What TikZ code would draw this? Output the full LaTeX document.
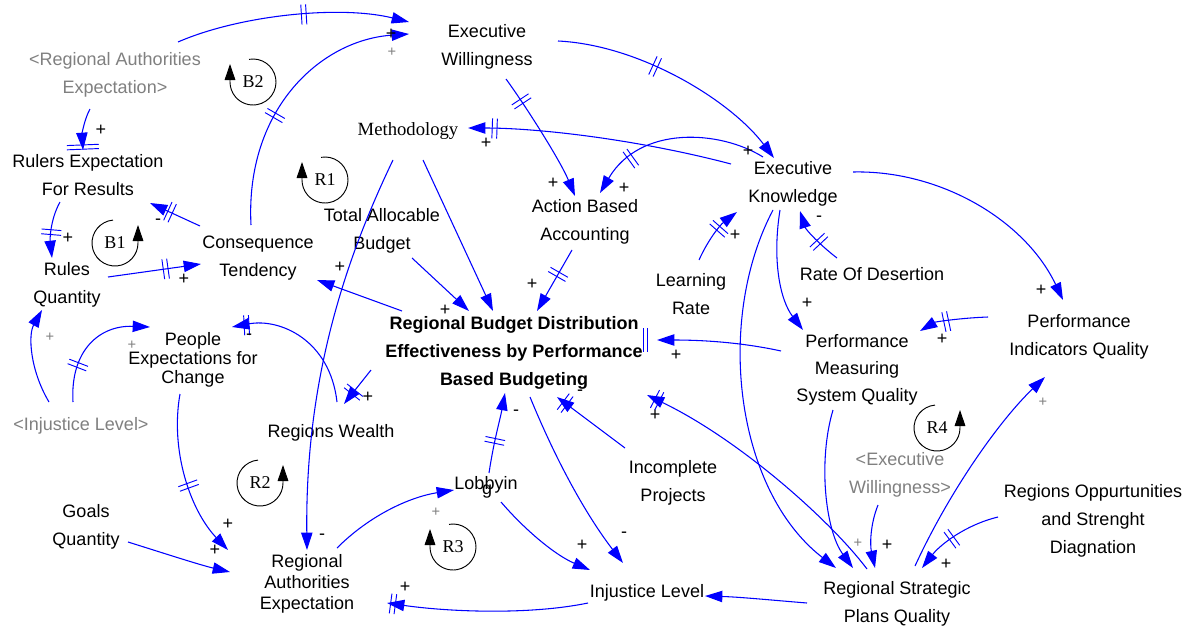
\documentclass[tikz,border=0pt]{standalone}
\usepackage{fontspec}
\setmainfont{Liberation Sans}
\newfontfamily\serifface{Liberation Serif}
\usetikzlibrary{arrows.meta,decorations.markings}
\definecolor{linkblue}{RGB}{0,0,255}
\definecolor{shadowgray}{RGB}{128,128,128}

\begin{document}
\begin{tikzpicture}[x=0.75pt,y=-0.75pt,
  var/.style={font=\fontsize{13.5}{20.5}\selectfont, align=center, inner sep=0pt},
  shadow/.style={var, text=shadowgray},
  link/.style={draw=linkblue, line width=0.8pt, -{Triangle[length=13pt,width=8.5pt]}},
  dmark/.style={draw=linkblue, line width=0.7pt, -},
  dly/.style={postaction={decorate, decoration={markings, mark=at position #1 with
      {\draw[dmark] (-1.8pt,-7.5pt) -- (-1.8pt,7.5pt) (1.8pt,-7.5pt) -- (1.8pt,7.5pt);}}}},
  dlywide/.style={postaction={decorate, decoration={markings, mark=at position #1 with
      {\draw[dmark] (-1.6pt,-12pt) -- (-1.6pt,12pt) (1.6pt,-12pt) -- (1.6pt,12pt);}}}},
  dlyend/.style={postaction={decorate, decoration={markings, mark=at position 1 with
      {\draw[dmark] (7.5pt,-9pt) -- (7.5pt,9pt) (10.5pt,-9pt) -- (10.5pt,9pt);}}}},
  sgn/.style={font=\fontsize{13.5}{16}\selectfont, inner sep=0pt},
  gsgn/.style={font=\fontsize{11}{13}\selectfont, text=shadowgray, inner sep=0pt},
  loopname/.style={font=\serifface\fontsize{13.5}{16}\selectfont, inner sep=0pt},
  loopline/.style={draw=black, line width=0.7pt, -{Triangle[length=12pt,width=8pt]}}
]
\fill[white] (0,0) rectangle (1191,628);
\useasboundingbox (0,0) rectangle (1191,628);

% ---------- variables ----------
\node[var] (ew) at (487,47) {Executive\\Willingness};
\node[shadow] (rae2) at (115,75) {<Regional Authorities\\Expectation>};
\node[var] (rerf) at (88,175) {Rulers Expectation\\For Results};
\node[var, font=\serifface\fontsize{14}{20}\selectfont] (meth) at (408,131) {Methodology};
\node[var] (tab) at (382,231) {Total Allocable\\Budget};
\node[var] (aba) at (585,222) {Action Based\\Accounting};
\node[var] (ek) at (793,184) {Executive\\Knowledge};
\node[var] (ct) at (258,258) {Consequence\\Tendency};
\node[var] (rq) at (67,285) {Rules\\Quantity};
\node[var] (lr) at (691,294) {Learning\\Rate};
\node[var] (rod) at (872,274) {Rate Of Desertion};
\node[var, font=\fontsize{13.5}{21}\selectfont] (piq) at (1079,337) {Performance\\Indicators Quality};
\node[var] (pmsq) at (857,370) {Performance\\Measuring\\System Quality};
\node[var, font=\bfseries\fontsize{13.5}{21}\selectfont] (rbd) at (514,353)
  {Regional Budget Distribution\\Effectiveness by Performance\\Based Budgeting};
\node[var, font=\fontsize{13.5}{14.5}\selectfont] (pec) at (193,360) {People\\Expectations for\\Change};
\node[shadow] (il2) at (81,426) {<Injustice Level>};
\node[var] (rw) at (331,433) {Regions Wealth};
\node[var] (ip) at (673,483) {Incomplete\\Projects};
\node[var] (lob) at (486,485) {Lobbyin};
\node[var] (lobg) at (487,492) {g};
\node[var, font=\fontsize{13.5}{21}\selectfont] (gq) at (86,527) {Goals\\Quantity};
\node[var, font=\fontsize{13.5}{16}\selectfont] (rae) at (307,584) {Regional\\Authorities\\Expectation};
\node[var] (il) at (647,593) {Injustice Level};
\node[var] (rspq) at (897,604) {Regional Strategic\\Plans Quality};
\node[shadow] (ew2) at (900,475) {<Executive\\Willingness>};
\node[var, font=\fontsize{13.5}{21}\selectfont] (rosd) at (1093,521) {Regions Oppurtunities\\and Strenght\\Diagnation};

% ---------- loop markers ----------
\node[loopname] (lb2) at (253,82) {B2};
\node[loopname] (lr1) at (325,180) {R1};
\node[loopname] (lb1) at (115,243) {B1};
\node[loopname] (lr2) at (260,483) {R2};
\node[loopname] (lr3) at (453,547) {R3};
\node[loopname] (lr4) at (937,428) {R4};
\draw[loopline] (lb2.center) ++(260:23) arc[start angle=260, end angle=540, radius=23] -- ++(0,-18);
\draw[loopline] (lr1.center) ++(260:23) arc[start angle=260, end angle=540, radius=23] -- ++(0,-18);
\draw[loopline] (lr3.center) ++(260:23) arc[start angle=260, end angle=540, radius=23] -- ++(0,-18);
\draw[loopline] (lb1.center) ++(-95:23) arc[start angle=-95, end angle=-360, radius=23] -- ++(0,-18);
\draw[loopline] (lr2.center) ++(-95:23) arc[start angle=-95, end angle=-360, radius=23] -- ++(0,-18);
\draw[loopline] (lr4.center) ++(-95:23) arc[start angle=-95, end angle=-360, radius=23] -- ++(0,-18);

% ---------- causal links ----------
\draw[link, dly=0.55] ([shift={(63,-33)}]rae2.center) .. controls (240,15) and (340,5) .. ([shift={(-78,-25)}]ew.center);
\draw[link, dly=0.41] ([shift={(-7,-33)}]ct.center) .. controls (245,110) and (320,40) .. ([shift={(-78,-13)}]ew.center);
\draw[link, dly=0.4] ([shift={(71,-6)}]ew.center) .. controls (640,45) and (730,100) .. ([shift={(-19,-26)}]ek.center);
\draw[link, dly=0.2] ([shift={(19,32)}]ew.center) .. controls (525,105) and (560,160) .. ([shift={(-10,-26)}]aba.center);
\draw[link, dly=0.9] ([shift={(-62,-20)}]ek.center) .. controls (640,140) and (540,128) .. ([shift={(60,-3)}]meth.center);
\draw[link, dly=0.75] ([shift={(-30,-27)}]ek.center) .. controls (720,130) and (640,125) .. ([shift={(15,-29)}]aba.center);
\draw[link] ([shift={(15,29)}]meth.center) -- ([shift={(-21,-42)}]rbd.center);
\draw[link] ([shift={(-15,29)}]meth.center) .. controls (345,260) and (305,380) .. ([shift={(0,-34)}]rae.center);
\draw[link] ([shift={(30,27)}]tab.center) -- ([shift={(-45,-42)}]rbd.center);
\draw[link, dly=0.4] ([shift={(-13,28)}]aba.center) -- ([shift={(23,-42)}]rbd.center);
\draw[link] ([shift={(-112,-42)}]rbd.center) -- ([shift={(59,22)}]ct.center);
\draw[link, dly=0.6] ([shift={(-58,-32)}]ct.center) -- ([shift={(62,28)}]rerf.center);
\draw[link, dly=0.55] ([shift={(-28,27)}]rerf.center) .. controls (50,220) and (50,240) .. ([shift={(-15,-27)}]rq.center);
\draw[link, dly=0.62] ([shift={(41,-8)}]rq.center) -- ([shift={(-57,6)}]ct.center);
\draw[link, dlywide=0.93] ([shift={(-25,34)}]rae2.center) .. controls (84,120) and (82,135) .. ([shift={(-5,-25)}]rerf.center);
\draw[link] ([shift={(-32,-24)}]il2.center) .. controls (30,370) and (28,335) .. ([shift={(-25,25)}]rq.center);
\draw[link, dly=0.3] ([shift={(-8,-24)}]il2.center) .. controls (70,350) and (100,325) .. ([shift={(-43,-33)}]pec.center);
\draw[link, dly=0.9] ([shift={(6,-31)}]rw.center) .. controls (330,340) and (280,318) .. ([shift={(39,-33)}]pec.center);
\draw[link, dly=0.65] ([shift={(-143,17)}]rbd.center) -- ([shift={(13,-29)}]rw.center);
\draw[link, dly=0.55] ([shift={(-13,34)}]pec.center) .. controls (170,450) and (190,510) .. ([shift={(-79,-34)}]rae.center);
\draw[link] ([shift={(42,15)}]gq.center) .. controls (160,552) and (200,565) .. ([shift={(-77,-12)}]rae.center);
\draw[link] ([shift={(30,-36)}]rae.center) .. controls (370,515) and (410,497) .. ([shift={(-32,5)}]lob.center);
\draw[link, dly=0.4] ([shift={(3,-12)}]lob.center) .. controls (494,440) and (500,420) .. ([shift={(-9,40)}]rbd.center);
\draw[link] ([shift={(16,44)}]rbd.center) .. controls (560,470) and (590,520) .. ([shift={(-24,-30)}]il.center);
\draw[link] ([shift={(15,17)}]lob.center) .. controls (525,530) and (555,555) .. ([shift={(-57,-23)}]il.center);
\draw[link, dly=0.97] ([shift={(-59,10)}]il.center) .. controls (530,615) and (450,612) .. ([shift={(80,19)}]rae.center);
\draw[link] ([shift={(-90,-1)}]rspq.center) .. controls (770,600) and (740,597) .. ([shift={(58,3)}]il.center);
\draw[link, dly=0.88] ([shift={(-48,-35)}]ip.center) -- ([shift={(43,44)}]rbd.center);
\draw[link, dly=0.96] ([shift={(-30,-35)}]rspq.center) .. controls (830,520) and (740,440) .. ([shift={(133,42)}]rbd.center);
\draw[link, dlyend] ([shift={(-76,-19)}]pmsq.center) .. controls (740,342) and (700,340) .. ([shift={(143,-13)}]rbd.center);
\draw[link, dly=0.6] ([shift={(8,-34)}]lr.center) .. controls (708,240) and (720,225) .. ([shift={(-56,28)}]ek.center);
\draw[link, dly=0.4] ([shift={(-35,-16)}]rod.center) .. controls (820,245) and (806,230) .. ([shift={(7,27)}]ek.center);
\draw[link] ([shift={(60,-12)}]ek.center) .. controls (940,170) and (1025,220) .. ([shift={(-16,-37)}]piq.center);
\draw[link] ([shift={(-13,26)}]ek.center) .. controls (772,260) and (780,300) .. ([shift={(-54,-40)}]pmsq.center);
\draw[link] ([shift={(-20,26)}]ek.center) .. controls (715,320) and (735,490) .. ([shift={(-61,-36)}]rspq.center);
\draw[link] ([shift={(-24,40)}]pmsq.center) .. controls (818,460) and (825,530) .. ([shift={(-44,-36)}]rspq.center);
\draw[link] ([shift={(-22,30)}]ew2.center) .. controls (870,525) and (870,545) .. ([shift={(-22,-36)}]rspq.center);
\draw[link] ([shift={(18,-38)}]rspq.center) .. controls (950,490) and (1000,420) .. ([shift={(-34,40)}]piq.center);
\draw[link, dly=0.55] ([shift={(-95,-4)}]rosd.center) .. controls (965,525) and (940,545) .. ([shift={(25,-36)}]rspq.center);
\draw[link, dly=0.6] ([shift={(-91,-20)}]piq.center) .. controls (960,318) and (935,322) .. ([shift={(63,-39)}]pmsq.center);

% ---------- polarities ----------
\node[sgn] (s01) at (391,34) {+};
\node[sgn] (s02) at (101,130) {+};
\node[sgn] (s03) at (553,183) {+};
\node[sgn] (s04) at (486,143) {+};
\node[sgn] (s05) at (624,188) {+};
\node[sgn] (s06) at (748,151) {+};
\node[sgn] (s07) at (158,222) {-};
\node[sgn] (s08) at (68,238) {+};
\node[sgn] (s09) at (184,279) {+};
\node[sgn] (s10) at (340,267) {+};
\node[sgn] (s11) at (445,310) {+};
\node[sgn] (s12) at (532,284) {+};
\node[sgn] (s13) at (735,235) {+};
\node[sgn] (s14) at (819,219) {-};
\node[sgn] (s15) at (1041,290) {+};
\node[sgn] (s16) at (807,303) {+};
\node[sgn] (s17) at (942,339) {+};
\node[sgn] (s18) at (676,355) {+};
\node[sgn] (s19) at (249,337) {-};
\node[sgn] (s20) at (368,397) {+};
\node[sgn] (s21) at (228,524) {+};
\node[sgn] (s22) at (215,550) {+};
\node[sgn] (s23) at (322,537) {-};
\node[sgn] (s24) at (516,413) {-};
\node[sgn] (s25) at (580,393) {-};
\node[sgn] (s26) at (655,415) {+};
\node[sgn] (s27) at (624,535) {-};
\node[sgn] (s28) at (582,545) {+};
\node[sgn] (s29) at (405,587) {+};
\node[sgn] (s30) at (887,545) {+};
\node[sgn] (s31) at (946,564) {+};
\node[gsgn] (g01) at (392,52) {+};
\node[gsgn] (g02) at (50,337) {+};
\node[gsgn] (g03) at (132,345) {+};
\node[gsgn] (g04) at (436,512) {+};
\node[gsgn] (g05) at (858,543) {+};
\node[gsgn] (g06) at (1043,402) {+};
\end{tikzpicture}
\end{document}
